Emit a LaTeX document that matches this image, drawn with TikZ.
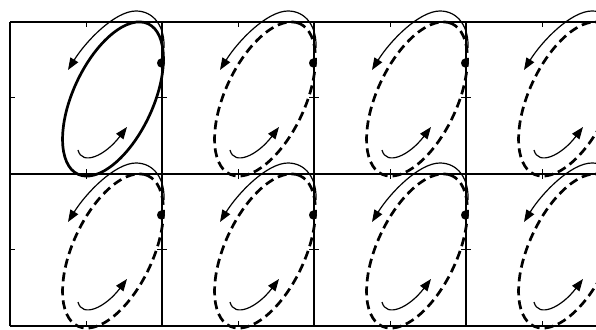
\documentclass[tikz,border=0pt]{standalone}
\usetikzlibrary{arrows.meta, shapes.geometric}
\definecolor{inkline}{HTML}{000000}
\tikzset{
  frame/.style={
    line width=1.4pt,
    draw=inkline
  },
  tickmark/.style={
    line width=1pt,
    draw=inkline
  },
  orbit/.style={
    line width=2.7pt,
    draw=inkline
  },
  orbit-dashed/.style={
    orbit,
    dash pattern=on 9pt off 5pt
  },
  sweep/.style={
    -{Triangle[length=12pt,width=9pt]},
    line width=1.2pt,
    draw=inkline
  },
  marker/.style={
    ellipse,
    fill=inkline,
    inner sep=0pt,
    minimum width=8pt,
    minimum height=9pt
  }
}

\begin{document}
\begin{tikzpicture}[x=1pt,y=1pt]

\useasboundingbox (0,0) rectangle (596,329);
\clip (0,0) rectangle (596,329);

% Panels: column/row/ellipse style. Only the first one is solid.
\foreach \col/\row/\kind in {0/1/orbit, 1/1/orbit-dashed, 2/1/orbit-dashed, 3/1/orbit-dashed,
                             0/0/orbit-dashed, 1/0/orbit-dashed, 2/0/orbit-dashed, 3/0/orbit-dashed} {
  \begin{scope}[shift={(10+152*\col, 3+152*\row)}]
    % Closed orbit.
    \draw[\kind, rotate around={65:(103,75)}] (103,75) ellipse [x radius=83, y radius=40];
    % Marked point on the right edge.
    \node[marker] (dot\col\row) at (151,111) {};
    % Direction of travel.
    \draw[sweep] (154,126) .. controls (155,147) and (144,163) .. (126,163)
                           .. controls (105,163) and (76,133) .. (58,104);
    \draw[sweep] (68,24) .. controls (72,8) and (95,18) .. (117,47);
    % Inward ticks at the middle of each side.
    \draw[tickmark] (76,0) -- (76,5) (76,152) -- (76,147)
                    (0,76) -- (5,76) (152,76) -- (147,76);
  \end{scope}
}

% Frame lines.
\foreach \y in {3,155,307}
  \draw[frame] (10,\y) -- (596,\y);
\foreach \x in {10,162,314,466}
  \draw[frame] (\x,3) -- (\x,307);

\end{tikzpicture}
\end{document}
